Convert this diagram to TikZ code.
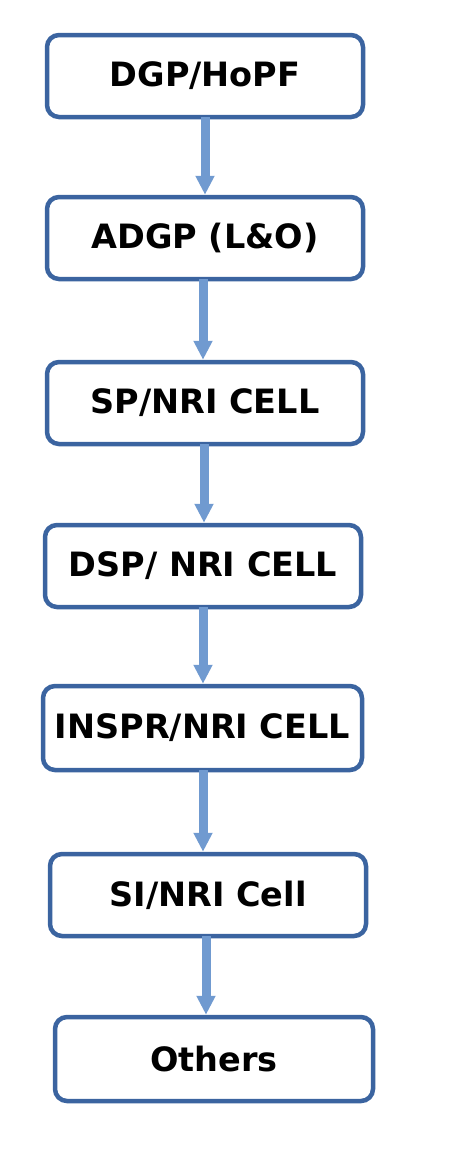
\documentclass[tikz,border=0pt]{standalone}
\usepackage{fontspec}
\setmainfont{DejaVu Sans}
\usetikzlibrary{arrows.meta}
\definecolor{boxline}{RGB}{59,100,160}
\definecolor{arrowfill}{RGB}{112,154,208}
\tikzset{
  flowbox/.style={draw=boxline, line width=4.5pt, rounded corners=12pt, fill=white,
    minimum width=316pt, minimum height=82pt, inner sep=0pt,
    font=\fontsize{33.5}{40}\selectfont\bfseries, text=black},
  conn/.style={draw=arrowfill, line width=9pt,
    -{Triangle[width=18pt,length=19pt]}, shorten <=-2pt}
}
\begin{document}
\begin{tikzpicture}[x=1pt,y=-1pt]
\useasboundingbox (0,0) rectangle (474,1163);
\node[flowbox] (b1) at (205,76) {DGP/HoPF};
\node[flowbox] (b2) at (205,238) {ADGP (L\&O)};
\node[flowbox] (b3) at (205,403) {SP/NRI CELL};
\node[flowbox] (b4) at (203,566) {DSP/ NRI CELL};
\node[flowbox, minimum width=319pt, minimum height=84pt] (b5) at (202.5,728) {INSPR/NRI CELL};
\node[flowbox] (b6) at (208,895) {SI/NRI Cell};
\node[flowbox, minimum width=318pt, minimum height=84pt] (b7) at (214,1059) {Others};
\draw[conn] (b1.south) -- (b2.north);
\draw[conn] ([xshift=-2pt]b2.south) -- ([xshift=-2pt]b3.north);
\draw[conn] ([xshift=-1pt]b3.south) -- ([xshift=1pt]b4.north);
\draw[conn] (b4.south) -- ([xshift=0.5pt]b5.north);
\draw[conn] ([xshift=0.5pt]b5.south) -- ([xshift=-5pt]b6.north);
\draw[conn] ([xshift=-2pt]b6.south) -- ([xshift=-8pt]b7.north);
\end{tikzpicture}
\end{document}
